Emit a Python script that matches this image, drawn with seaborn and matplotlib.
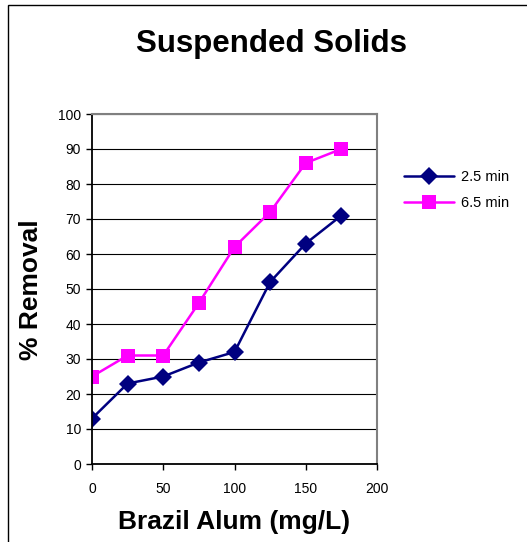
import matplotlib
matplotlib.use("Agg")
import matplotlib.pyplot as plt
from matplotlib.patches import Rectangle
import pandas as pd
import seaborn as sns

# Alum dose (mg/L) and percent removal of suspended solids
dose = [0, 25, 50, 75, 100, 125, 150, 175]
removal_2_5 = [13, 23, 25, 29, 32, 52, 63, 71]
removal_6_5 = [25, 31, 31, 46, 62, 72, 86, 90]
series_names = ["2.5 min", "6.5 min"]
x_ticks = [0, 50, 100, 150, 200]
y_ticks = list(range(0, 101, 10))

df = pd.DataFrame({
    "dose": dose * 2,
    "removal": removal_2_5 + removal_6_5,
    "series": [series_names[0]] * len(dose) + [series_names[1]] * len(dose),
})

sns.set_style("white")
plt.rcParams["font.family"] = ["Liberation Sans", "DejaVu Sans"]
plt.rcParams["text.color"] = "black"
plt.rcParams["axes.labelcolor"] = "black"
plt.rcParams["xtick.color"] = "black"
plt.rcParams["ytick.color"] = "black"

W, H = 527, 542
fig = plt.figure(figsize=(W / 100, H / 100), dpi=100)
fig.patch.set_facecolor("white")

# outer chart frame
fig.patches.append(Rectangle((8 / W, -0.1), 1.2, (H - 5) / H + 0.1,
                             transform=fig.transFigure, fill=False,
                             edgecolor="black", linewidth=1.0))

ax = fig.add_axes([92 / W, (H - 464) / H, (377 - 92) / W, (464 - 114) / H])

palette = {series_names[0]: "#000080", series_names[1]: "#FF00FF"}
markers = {series_names[0]: "D", series_names[1]: "s"}
sns.lineplot(data=df, x="dose", y="removal", hue="series", style="series",
             palette=palette, markers=markers, dashes=False, ax=ax,
             linewidth=1.8, markersize=9.5, markeredgewidth=0, legend=True)

ax.set_xlim(0, 200)
ax.set_ylim(0, 100)
ax.set_xticks(x_ticks)
ax.set_yticks(y_ticks)
ax.tick_params(axis="both", direction="out", length=4, width=1,
               labelsize=10, color="black", labelcolor="black")
ax.tick_params(axis="x", bottom=True, pad=9)
ax.tick_params(axis="y", left=True, pad=4)
ax.yaxis.grid(True, color="black", linewidth=0.8)
ax.xaxis.grid(False)
ax.set_axisbelow(True)
for side in ("left", "bottom"):
    ax.spines[side].set_color("black")
    ax.spines[side].set_linewidth(1.3)
for side in ("top", "right"):
    ax.spines[side].set_color("#808080")
    ax.spines[side].set_linewidth(1.5)

ax.set_xlabel("")
ax.set_ylabel("")
fig.text(234 / W, 1 - 522 / H, "Brazil Alum (mg/L)", ha="center", va="center",
         fontsize=19, fontweight="bold", color="black")
fig.text(31 / W, 1 - 290 / H, "% Removal", ha="center", va="center",
         rotation=90, fontsize=19, fontweight="bold", color="black")
fig.text(271 / W, 1 - 44 / H, "Suspended Solids", ha="center", va="center",
         fontsize=22.5, fontweight="bold", color="black")

leg = ax.legend(loc="upper left", bbox_to_anchor=(391 / W, 1 - 157 / H),
                bbox_transform=fig.transFigure, frameon=False, fontsize=10.5,
                handlelength=3.4, handletextpad=0.5, labelspacing=0.8,
                title=None)
for h in leg.legend_handles:
    h.set_markeredgewidth(0)

fig.savefig("out.png", dpi=100, facecolor="white")
